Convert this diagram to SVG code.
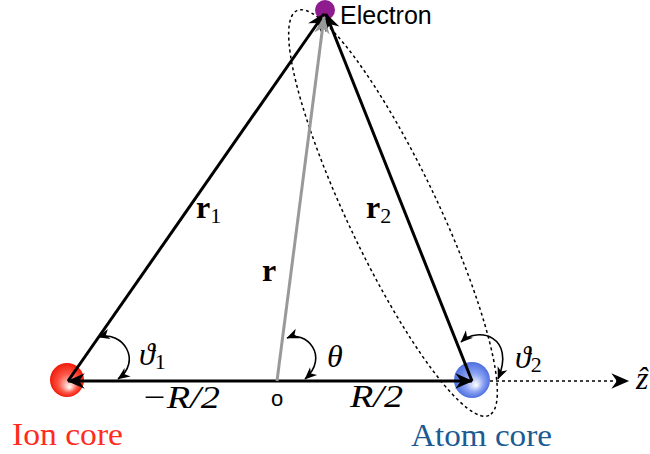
<svg xmlns="http://www.w3.org/2000/svg" width="650" height="454" viewBox="0 0 650 454">
  <defs>
    <style>
      .vec { stroke: #000; stroke-width: 3; fill: none; }
      .gvec { stroke: #999; stroke-width: 3; fill: none; }
      .arc { stroke: #000; stroke-width: 1.6; fill: none; }
      .dot { stroke: #000; stroke-width: 1.5; fill: none; stroke-dasharray: 3 3; }
      .math { font-family: "Liberation Serif", "DejaVu Serif", serif; font-style: italic; font-size: 32px; fill: #000; }
      .bold { font-family: "Liberation Serif", "DejaVu Serif", serif; font-weight: bold; font-size: 32px; fill: #000; }
      .sub { font-family: "Liberation Serif", "DejaVu Serif", serif; font-style: normal; font-weight: normal; font-size: 22px; }
      .lbl { font-family: "Liberation Serif", "DejaVu Serif", serif; font-size: 32px; }
      .sans { font-family: "Liberation Sans", Arial, sans-serif; fill: #000; }
    </style>
    <marker id="ah" markerUnits="userSpaceOnUse" markerWidth="20" markerHeight="20" viewBox="-16 -8 18 16" refX="0" refY="0" orient="auto">
      <path d="M1,0 L-15,-7 L-10,0 L-15,7 Z" fill="#000"/>
    </marker>
    <marker id="ahg" markerUnits="userSpaceOnUse" markerWidth="20" markerHeight="20" viewBox="-16 -8 18 16" refX="0" refY="0" orient="auto">
      <path d="M1,0 L-15,-7 L-10,0 L-15,7 Z" fill="#999"/>
    </marker>
    <marker id="sa" markerUnits="userSpaceOnUse" markerWidth="14" markerHeight="14" viewBox="-11 -6 12 12" refX="0" refY="0" orient="auto-start-reverse">
      <path d="M0.5,0 L-10,-4.5 L-7,0 L-10,4.5 Z" fill="#000"/>
    </marker>
    <radialGradient id="gRed" cx="0.5" cy="0.5" r="0.5" fx="0.58" fy="0.72">
      <stop offset="0" stop-color="#ffffff"/>
      <stop offset="0.55" stop-color="#ff5a4a"/>
      <stop offset="1" stop-color="#f01a08"/>
    </radialGradient>
    <radialGradient id="gBlue" cx="0.5" cy="0.5" r="0.5" fx="0.62" fy="0.65">
      <stop offset="0" stop-color="#ffffff"/>
      <stop offset="0.5" stop-color="#8fa6f5"/>
      <stop offset="1" stop-color="#4d6fe0"/>
    </radialGradient>
  </defs>

  <g id="ion-core">
    <circle cx="67" cy="380" r="17" fill="url(#gRed)"/>
    <text class="lbl" x="12" y="445" fill="#ff2b1c" textLength="111" lengthAdjust="spacingAndGlyphs">Ion core</text>
  </g>
  <g id="atom-core">
    <circle cx="472" cy="380" r="18" fill="url(#gBlue)"/>
    <text class="lbl" x="411" y="446" fill="#1b5a93" textLength="141" lengthAdjust="spacingAndGlyphs">Atom core</text>
  </g>
  <g id="electron">
    <circle cx="325" cy="10" r="10" fill="#8e1c8e"/>
    <text class="sans" x="340" y="24" font-size="25">Electron</text>
  </g>
  <g id="origin">
    <text class="sans" x="277" y="406" font-size="22" text-anchor="middle">o</text>
  </g>

  <g id="connectors">
    <ellipse class="dot" cx="393" cy="213" rx="224" ry="45" transform="rotate(64.6 393 213)"/>
    <line class="dot" x1="490" y1="381" x2="628" y2="381" marker-end="url(#ah)"/>
    <line class="vec" x1="277" y1="381" x2="68" y2="381" marker-end="url(#ah)"/>
    <line class="vec" x1="277" y1="381" x2="472" y2="381" marker-end="url(#ah)"/>
    <line class="vec" x1="68" y1="381" x2="324" y2="14" marker-end="url(#ah)"/>
    <line class="vec" x1="472" y1="381" x2="326" y2="14" marker-end="url(#ah)"/>
    <line class="gvec" x1="277" y1="381" x2="324" y2="17" marker-end="url(#ahg)"/>
    <path class="arc" d="M98,337 C124,330 142,362 118,379" marker-start="url(#sa)" marker-end="url(#sa)"/>
    <path class="arc" d="M287,338 C306,330 330,356 305,379" marker-start="url(#sa)" marker-end="url(#sa)"/>
    <path class="arc" d="M461,342 C478,326 516,336 498,379" marker-start="url(#sa)" marker-end="url(#sa)"/>
  </g>

  <g id="labels">
    <text class="bold" x="196" y="218">r<tspan class="sub" dy="5">1</tspan></text>
    <text class="bold" x="366" y="218">r<tspan class="sub" dy="5">2</tspan></text>
    <text class="bold" x="262" y="281">r</text>
    <text class="math" x="139" y="365">ϑ<tspan class="sub" dy="4">1</tspan></text>
    <text class="math" x="327" y="367">θ</text>
    <text class="math" x="515" y="368">ϑ<tspan class="sub" dy="4">2</tspan></text>
    <text class="math" x="141" y="408" textLength="79" lengthAdjust="spacingAndGlyphs">−R/2</text>
    <text class="math" x="350" y="407" textLength="53" lengthAdjust="spacingAndGlyphs">R/2</text>
    <text class="math" x="636" y="389">ẑ</text>
  </g>
</svg>
